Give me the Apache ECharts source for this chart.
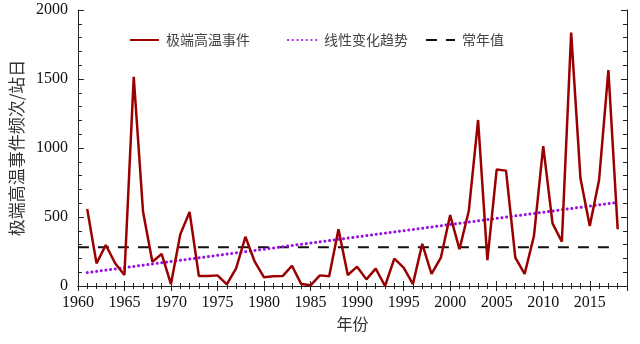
<!DOCTYPE html>
<html><head><meta charset="utf-8">
<script src="https://cdn.jsdelivr.net/npm/echarts@6/dist/echarts.min.js"></script>
<style>html,body{margin:0;padding:0;background:#fff}#c{width:640px;height:344px}</style>
</head><body><div id="c"></div>
<script>
var years = [1961,1962,1963,1964,1965,1966,1967,1968,1969,1970,1971,1972,1973,1974,1975,1976,1977,1978,1979,1980,1981,1982,1983,1984,1985,1986,1987,1988,1989,1990,1991,1992,1993,1994,1995,1996,1997,1998,1999,2000,2001,2002,2003,2004,2005,2006,2007,2008,2009,2010,2011,2012,2013,2014,2015,2016,2017,2018];
var events = [558,164,297,165,80,1515,538,176,232,14,374,536,72,72,77,12,128,357,176,63,70,72,147,14,5,77,70,411,80,140,48,126,0,198,133,14,306,87,205,514,266,543,1203,188,845,836,205,87,362,1014,454,321,1836,780,435,768,1565,411];
var trendYears = [1961, 2018];
var trendValues = [97, 606];
var normalYears = [1960, 2018];
var normalValues = [280, 280];
var names = ['极端高温事件', '线性变化趋势', '常年值'];
var xName = '年份';
var yName = '极端高温事件频次/站日';

function pairs(xs, ys){ return xs.map(function(x,i){ return [x, ys[i]]; }); }
var serif = '"Liberation Serif","Times New Roman",serif';
var cjk = '"Noto Sans CJK SC","Noto Sans",sans-serif';
var axisCol = '#222';

var chart = echarts.init(document.getElementById('c'));
function legendAt(left, name){
  return { left: left, top: 28, data: [name], itemWidth: 29, itemHeight: 14, itemGap: 0,
    itemStyle: { opacity: 0 },
    textStyle: { fontFamily: cjk, fontSize: 14, color: '#444', padding: [0,0,0,2] } };
}
chart.setOption({
  animation: false,
  grid: { left: 74, right: 13, top: 10, bottom: 58 },
  legend: [legendAt(124, names[0]), legendAt(282, names[1]), legendAt(420, names[2])],
  xAxis: [{
    type: 'value', min: 1960, max: 2019, interval: 5,
    name: xName, nameLocation: 'middle', nameGap: 30,
    nameTextStyle: { fontFamily: cjk, fontSize: 16, color: '#333' },
    axisLine: { lineStyle: { color: axisCol, width: 1 } },
    axisTick: { inside: true, length: 5, lineStyle: { color: axisCol } },
    minorTick: { show: true, splitNumber: 5, length: 3, lineStyle: { color: axisCol } },
    axisLabel: { fontFamily: serif, fontSize: 16, color: '#111', margin: 9,
      formatter: function(v){ return v > 2015 ? '' : String(v); } },
    splitLine: { show: false }
  }, {
    type: 'value', min: 1960, max: 2019, interval: 5, position: 'top',
    axisLine: { lineStyle: { color: axisCol } },
    axisTick: { inside: true, length: 5, lineStyle: { color: axisCol } },
    minorTick: { show: true, splitNumber: 5, length: 3, lineStyle: { color: axisCol } },
    axisLabel: { show: false }, splitLine: { show: false }
  }],
  yAxis: [{
    type: 'value', min: 0, max: 2000, interval: 500,
    name: yName, nameLocation: 'middle', nameGap: 52, nameRotate: 90,
    nameTextStyle: { fontFamily: cjk, fontSize: 17, color: '#333' },
    axisLine: { show: true, lineStyle: { color: axisCol } },
    axisTick: { show: true, inside: true, length: 6, lineStyle: { color: axisCol } },
    minorTick: { show: true, splitNumber: 5, length: 4, lineStyle: { color: axisCol } },
    axisLabel: { fontFamily: serif, fontSize: 16, color: '#111', margin: 10,
      formatter: function(v){ return String(v); } },
    splitLine: { show: false }
  }, {
    type: 'value', min: 0, max: 2000, interval: 500, position: 'right',
    axisLine: { show: true, lineStyle: { color: axisCol } },
    axisTick: { show: true, inside: true, length: 6, lineStyle: { color: axisCol } },
    minorTick: { show: true, splitNumber: 5, length: 4, lineStyle: { color: axisCol } },
    axisLabel: { show: false }, splitLine: { show: false }
  }],
  series: [{
    name: names[2], type: 'line', symbol: 'none', data: pairs(normalYears, normalValues),
    itemStyle: { color: '#111' },
    lineStyle: { color: '#111', width: 2, type: [11, 9] }, z: 2
  }, {
    name: names[1], type: 'line', symbol: 'none', data: pairs(trendYears, trendValues),
    itemStyle: { color: '#9a10e0' },
    lineStyle: { color: '#9a10e0', width: 3, type: [0.1, 4.6], cap: 'round' }, z: 3
  }, {
    name: names[0], type: 'line', symbol: 'none', data: pairs(years, events),
    itemStyle: { color: '#9b0000' },
    lineStyle: { color: '#9b0000', width: 2.5 }, z: 4
  }]
});
</script></body></html>
